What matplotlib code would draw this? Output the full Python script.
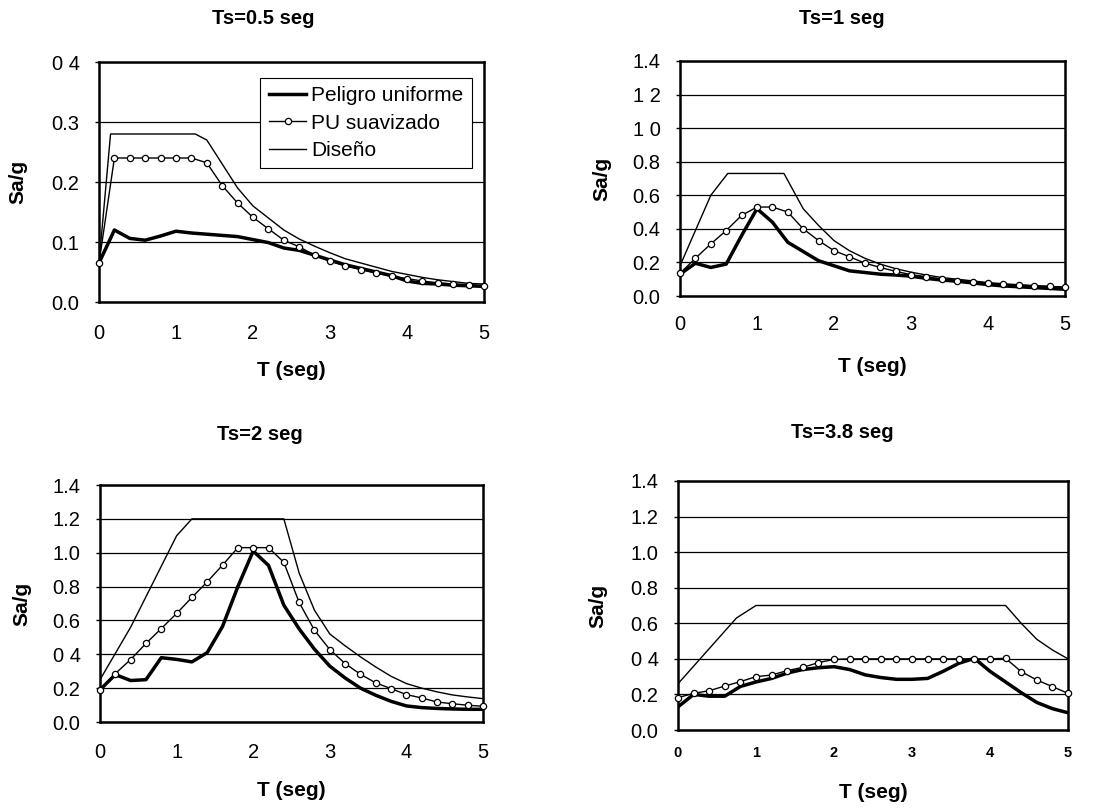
import matplotlib
matplotlib.use("Agg")
import matplotlib.pyplot as plt

plt.rcParams['font.family'] = ['Liberation Sans', 'DejaVu Sans']

# ---------------- data ----------------
T_grid = [0, 0.2, 0.4, 0.6, 0.8, 1.0, 1.2, 1.4, 1.6, 1.8, 2.0, 2.2, 2.4,
          2.6, 2.8, 3.0, 3.2, 3.4, 3.6, 3.8, 4.0, 4.2, 4.4, 4.6, 4.8, 5.0]

titles = ["Ts=0.5 seg", "Ts=1 seg", "Ts=2 seg", "Ts=3.8 seg"]
x_ticks = [0, 1, 2, 3, 4, 5]
x_ticklabels = ["0", "1", "2", "3", "4", "5"]

# Panel 1 : Ts=0.5 seg
p1_yticks = [0.0, 0.1, 0.2, 0.3, 0.4]
p1_yticklabels = ["0.0", "0.1", "0.2", "0.3", "0 4"]
p1_peligro = [0.065, 0.12, 0.106, 0.103, 0.11, 0.118, 0.115, 0.113, 0.111, 0.109,
              0.104, 0.099, 0.09, 0.086, 0.078, 0.07, 0.062, 0.056, 0.05, 0.044,
              0.035, 0.031, 0.030, 0.028, 0.027, 0.026]
p1_suav = [0.065, 0.24, 0.24, 0.24, 0.24, 0.24, 0.24, 0.232, 0.194, 0.165, 0.141,
           0.122, 0.103, 0.092, 0.078, 0.068, 0.060, 0.054, 0.048, 0.043, 0.039,
           0.035, 0.032, 0.030, 0.029, 0.027]
p1_dis_T = [0, 0.15, 1.25, 1.4, 1.6, 1.8, 2.0, 2.2, 2.4, 2.6, 2.8, 3.0, 3.2, 3.4,
            3.6, 3.8, 4.0, 4.2, 4.4, 4.6, 4.8, 5.0]
p1_dis = [0.065, 0.28, 0.28, 0.27, 0.23, 0.19, 0.16, 0.14, 0.12, 0.105, 0.093,
          0.082, 0.072, 0.065, 0.058, 0.051, 0.046, 0.041, 0.037, 0.034, 0.031, 0.030]

# Panel 2 : Ts=1 seg
p2_yticks = [0.0, 0.2, 0.4, 0.6, 0.8, 1.0, 1.2, 1.4]
p2_yticklabels = ["0.0", "0.2", "0.4", "0.6", "0.8", "1 0", "1 2", "1.4"]
p2_peligro = [0.13, 0.195, 0.17, 0.19, 0.36, 0.52, 0.44, 0.32, 0.265, 0.21,
              0.18, 0.15, 0.14, 0.13, 0.125, 0.118, 0.105, 0.095, 0.088, 0.078,
              0.068, 0.06, 0.055, 0.05, 0.045, 0.04]
p2_suav = [0.135, 0.225, 0.31, 0.39, 0.48, 0.53, 0.53, 0.5, 0.40, 0.33, 0.27,
           0.234, 0.196, 0.17, 0.147, 0.127, 0.115, 0.10, 0.09, 0.085, 0.075,
           0.069, 0.065, 0.06, 0.058, 0.052]
p2_dis_T = [0, 0.4, 0.62, 1.35, 1.6, 1.8, 2.0, 2.2, 2.4, 2.6, 2.8, 3.0, 3.2, 3.4,
            3.6, 3.8, 4.0, 4.2, 4.4, 4.6, 4.8, 5.0]
p2_dis = [0.18, 0.6, 0.73, 0.73, 0.52, 0.42, 0.33, 0.27, 0.225, 0.19, 0.163,
          0.142, 0.125, 0.11, 0.1, 0.09, 0.08, 0.073, 0.067, 0.062, 0.057, 0.052]

# Panel 3 : Ts=2 seg
p3_yticks = [0.0, 0.2, 0.4, 0.6, 0.8, 1.0, 1.2, 1.4]
p3_yticklabels = ["0.0", "0.2", "0 4", "0.6", "0.8", "1.0", "1.2", "1.4"]
p3_peligro = [0.19, 0.28, 0.245, 0.25, 0.38, 0.37, 0.355, 0.41, 0.565, 0.8,
              1.01, 0.925, 0.69, 0.55, 0.43, 0.33, 0.26, 0.2, 0.158, 0.122,
              0.095, 0.085, 0.08, 0.077, 0.075, 0.075]
p3_suav = [0.187, 0.286, 0.369, 0.464, 0.552, 0.641, 0.736, 0.828, 0.927, 1.03,
           1.03, 1.03, 0.943, 0.706, 0.542, 0.428, 0.345, 0.282, 0.231, 0.197,
           0.162, 0.142, 0.118, 0.108, 0.099, 0.093]
p3_dis_T = [0, 0.4, 1.0, 1.2, 2.4, 2.6, 2.8, 3.0, 3.2, 3.4, 3.6, 3.8, 4.0, 4.2,
            4.4, 4.6, 4.8, 5.0]
p3_dis = [0.25, 0.56, 1.1, 1.2, 1.2, 0.88, 0.66, 0.52, 0.45, 0.385, 0.325, 0.27,
          0.227, 0.2, 0.178, 0.16, 0.148, 0.138]

# Panel 4 : Ts=3.8 seg
p4_yticks = [0.0, 0.2, 0.4, 0.6, 0.8, 1.0, 1.2, 1.4]
p4_yticklabels = ["0.0", "0.2", "0 4", "0.6", "0.8", "1.0", "1.2", "1.4"]
p4_peligro = [0.13, 0.2, 0.19, 0.19, 0.245, 0.27, 0.29, 0.32, 0.34, 0.35, 0.356,
              0.34, 0.31, 0.295, 0.285, 0.285, 0.29, 0.33, 0.375, 0.403, 0.33,
              0.27, 0.21, 0.155, 0.12, 0.097]
p4_suav = [0.182, 0.206, 0.221, 0.247, 0.272, 0.30, 0.309, 0.334, 0.352, 0.379,
           0.397, 0.40, 0.40, 0.40, 0.40, 0.40, 0.40, 0.40, 0.40, 0.40, 0.40,
           0.403, 0.328, 0.281, 0.244, 0.206]
p4_dis_T = [0, 0.75, 1.0, 4.2, 4.4, 4.6, 4.8, 5.0]
p4_dis = [0.26, 0.63, 0.70, 0.70, 0.60, 0.51, 0.45, 0.40]

legend_labels = ["Peligro uniforme", "PU suavizado", "Diseño"]

# ---------------- layout (pixels) ----------------
W, H = 1110, 809
fig = plt.figure(figsize=(W / 100, H / 100), dpi=100)


def add_axes_px(l, r, t, b):
    return fig.add_axes([l / W, 1 - b / H, (r - l) / W, (b - t) / H])


panels = [
    dict(box=(99, 484, 62, 302), title_px=(263, 18), ylab_x=18, xlab_y=370,
         xtick_y=333, ylim=0.4, yticks=p1_yticks, ylabels=p1_yticklabels,
         pel=p1_peligro, suav=p1_suav, dT=p1_dis_T, dis=p1_dis, small=False),
    dict(box=(680, 1065, 61, 296), title_px=(842, 18), ylab_x=602, xlab_y=367,
         xtick_y=325, ylim=1.4, yticks=p2_yticks, ylabels=p2_yticklabels,
         pel=p2_peligro, suav=p2_suav, dT=p2_dis_T, dis=p2_dis, small=False),
    dict(box=(100, 483, 485, 722), title_px=(260, 435), ylab_x=22, xlab_y=790,
         xtick_y=752, ylim=1.4, yticks=p3_yticks, ylabels=p3_yticklabels,
         pel=p3_peligro, suav=p3_suav, dT=p3_dis_T, dis=p3_dis, small=False),
    dict(box=(678, 1068, 481, 730), title_px=(842, 433), ylab_x=598, xlab_y=793,
         xtick_y=753, ylim=1.4, yticks=p4_yticks, ylabels=p4_yticklabels,
         pel=p4_peligro, suav=p4_suav, dT=p4_dis_T, dis=p4_dis, small=True),
]

for i, p in enumerate(panels):
    l, r, t, b = p['box']
    ax = add_axes_px(l, r, t, b)
    wpx, hpx = r - l, b - t

    l_dis, = ax.plot(p['dT'], p['dis'], color='black', lw=1.0, zorder=3)
    l_suav, = ax.plot(T_grid, p['suav'], color='black', lw=1.0, marker='o',
                      markersize=4.5, markerfacecolor='white',
                      markeredgecolor='black', markeredgewidth=0.9,
                      zorder=5, clip_on=False)
    l_pel, = ax.plot(T_grid, p['pel'], color='black', lw=2.5, zorder=4,
                     solid_joinstyle='round')

    ax.set_xlim(0, 5)
    ax.set_ylim(0, p['ylim'])
    ax.set_yticks(p['yticks'])
    ax.set_yticklabels(p['ylabels'], fontsize=14.5)
    ax.set_xticks(x_ticks)
    if p['small']:
        ax.set_xticklabels(x_ticklabels, fontsize=10.5, fontweight='bold')
    else:
        ax.set_xticklabels(x_ticklabels, fontsize=14.5)
    ax.tick_params(axis='y', length=3, width=1, pad=11, direction='out')
    ax.tick_params(axis='x', length=0)
    for lab in ax.get_xticklabels():
        lab.set_va('center')
    ax.tick_params(axis='x', pad=(p['xtick_y'] - b) * 0.72)

    ax.yaxis.grid(True, color='black', lw=0.9)
    ax.set_axisbelow(True)
    for s in ax.spines.values():
        s.set_linewidth(1.8)
        s.set_color('black')

    ax.set_xlabel("T (seg)", fontsize=15, fontweight='bold')
    ax.xaxis.set_label_coords(0.5, (b - p['xlab_y']) / hpx)
    ax.xaxis.label.set_va('center')
    ax.set_ylabel("Sa/g", fontsize=15, fontweight='bold')
    ax.yaxis.set_label_coords((p['ylab_x'] - l) / wpx, 0.5)
    ax.yaxis.label.set_va('center')

    tx, ty = p['title_px']
    ax.set_title(titles[i], fontsize=14.5, fontweight='bold', pad=0,
                 x=(tx - l) / wpx, y=(b - ty) / hpx, va='center')

    if i == 0:
        leg = ax.legend([l_pel, l_suav, l_dis], legend_labels,
                        loc='upper right', bbox_to_anchor=(0.969, 0.933),
                        borderaxespad=0, fontsize=15, frameon=True,
                        fancybox=False, edgecolor='black', framealpha=1,
                        handlelength=1.8, handletextpad=0.25,
                        labelspacing=0.4, borderpad=0.4)
        leg.get_frame().set_linewidth(0.8)
        leg.set_zorder(10)

fig.savefig("out.png", dpi=100, facecolor='white')
